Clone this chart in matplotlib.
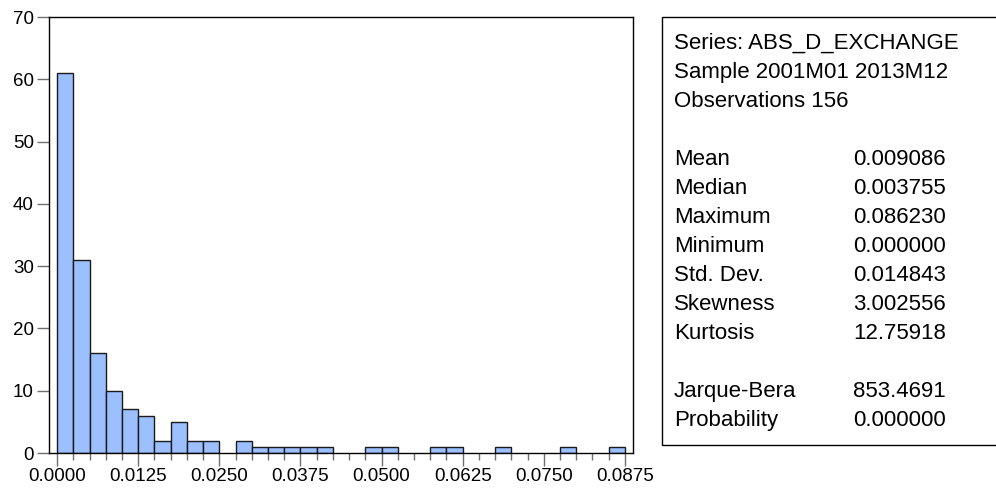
import numpy as np
import matplotlib.pyplot as plt
from matplotlib.patches import Rectangle

plt.rcParams['font.family'] = ['Liberation Sans', 'DejaVu Sans']

# histogram of ABS_D_EXCHANGE, bin width 0.0025 starting at 0
bin_width = 0.0025
counts = [61, 31, 16, 10, 7, 6, 2, 5, 2, 2, 0, 2, 1, 1, 1, 1, 1,
          0, 0, 1, 1, 0, 0, 1, 1, 0, 0, 1, 0, 0, 0, 1, 0, 0, 1]
tick_labels = ["0.0000", "0.0125", "0.0250", "0.0375", "0.0500",
               "0.0625", "0.0750", "0.0875"]

header_lines = ["Series: ABS_D_EXCHANGE", "Sample 2001M01 2013M12",
                "Observations 156"]
stat_names = ["Mean", "Median", "Maximum", "Minimum", "Std. Dev.",
              "Skewness", "Kurtosis"]
stat_values = ["0.009086", "0.003755", "0.086230", "0.000000",
               "0.014843", "3.002556", "12.75918"]
test_names = ["Jarque-Bera", "Probability"]
test_values = ["853.4691", "0.000000"]

W, H = 996, 488
fig = plt.figure(figsize=(W / 100, H / 100), dpi=100)
ax = fig.add_axes([49 / W, 1 - 453 / H, (633 - 49) / W, (453 - 17) / H])

counts = np.array(counts)
lefts = np.arange(len(counts)) * bin_width
mask = counts > 0
ax.bar(lefts[mask], counts[mask], width=bin_width, align='edge',
       color='#9bbfff', edgecolor='#1a1a1a', linewidth=1.0)

ax.set_xlim(-0.5 * bin_width, 35.5 * bin_width)
ax.set_ylim(0, 70)
ax.set_yticks(np.arange(0, 71, 10))
ax.set_xticks(np.arange(len(tick_labels)) * 5 * bin_width)
ax.set_xticklabels(tick_labels)
ax.set_xticks(np.arange(0, 36) * bin_width, minor=True)
ax.tick_params(axis='both', which='major', labelsize=13.5, length=9,
               width=1, color='#707070', pad=2)
ax.tick_params(axis='x', which='minor', length=5, width=1, color='#707070')
for sp in ax.spines.values():
    sp.set_linewidth(1.0)
    sp.set_color('black')

# statistics box
fig.patches.append(Rectangle((662 / W, 1 - 445 / H), (W + 10 - 662) / W,
                             (445 - 17) / H, transform=fig.transFigure,
                             facecolor='white', edgecolor='black',
                             linewidth=1.0, clip_on=False))

step = 29.05
y0 = 43
rows = []
for line in header_lines:
    rows.append((line, None))
rows.append(None)
for n, v in zip(stat_names, stat_values):
    rows.append((n, v))
rows.append(None)
for n, v in zip(test_names, test_values):
    rows.append((n, v))

for i, row in enumerate(rows):
    if row is None:
        continue
    y = 1 - (y0 + i * step) / H
    fig.text(674 / W, y, row[0], fontsize=16, va='center', ha='left')
    if row[1] is not None:
        fig.text(853 / W, y, row[1], fontsize=16, va='center', ha='left')

fig.savefig("out.png", dpi=100)
